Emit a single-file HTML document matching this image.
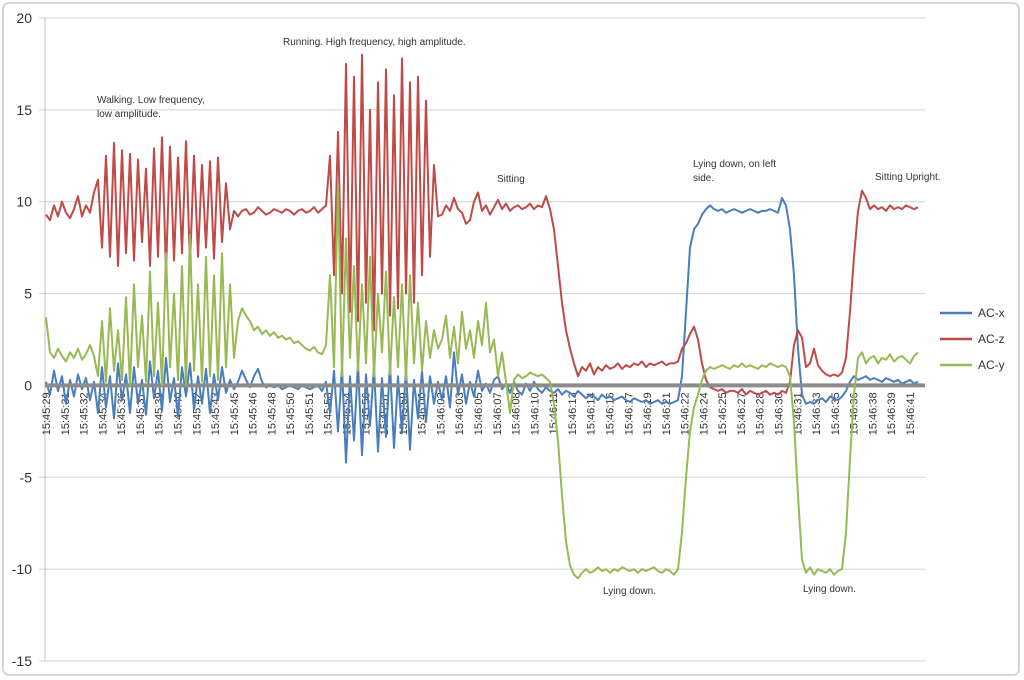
<!DOCTYPE html>
<html><head><meta charset="utf-8"><style>
html,body{margin:0;padding:0;background:#fff;}
svg{display:block;font-family:"Liberation Sans",sans-serif;}
</style></head><body>
<svg id="chart" width="1024" height="680" viewBox="0 0 1024 680" xmlns="http://www.w3.org/2000/svg">
<rect x="3" y="3" width="1016" height="672" rx="6" fill="#fff" stroke="#c8c8c8" stroke-width="1.5"/>
<g id="grid"></g>
<g id="yaxis"></g>
<g id="xaxis"></g>
<g id="series"></g>
<g font-size="10" fill="#333">
<text x="97" y="103">Walking. Low frequency,</text>
<text x="97" y="117">low amplitude.</text>
<text x="283" y="45">Running. High frequency, high amplitude.</text>
<text x="497" y="182">Sitting</text>
<text x="693" y="167">Lying down, on left</text>
<text x="693" y="181">side.</text>
<text x="875" y="180">Sitting Upright.</text>
<text x="603" y="594">Lying down.</text>
<text x="803" y="592">Lying down.</text>
</g>
<g font-size="12" fill="#333">
<line x1="940" y1="313" x2="972" y2="313" stroke="#4a7ebb" stroke-width="2.5"/>
<text x="978" y="317">AC-x</text>
<line x1="940" y1="339" x2="972" y2="339" stroke="#be4b48" stroke-width="2.5"/>
<text x="978" y="343">AC-z</text>
<line x1="940" y1="365" x2="972" y2="365" stroke="#98b954" stroke-width="2.5"/>
<text x="978" y="369">AC-y</text>
</g>
</svg>
<script>
const yTicks=[20,15,10,5,0,-5,-10,-15];
const timeLabels=["15:45:29","15:45:31","15:45:32","15:45:34","15:45:36","15:45:37","15:45:39","15:45:40","15:45:42","15:45:43","15:45:45","15:45:46","15:45:48","15:45:50","15:45:51","15:45:53","15:45:54","15:45:56","15:45:57","15:45:59","15:46:00","15:46:02","15:46:03","15:46:05","15:46:07","15:46:08","15:46:10","15:46:11","15:46:13","15:46:14","15:46:16","15:46:17","15:46:19","15:46:21","15:46:22","15:46:24","15:46:25","15:46:27","15:46:28","15:46:30","15:46:31","15:46:33","15:46:35","15:46:36","15:46:38","15:46:39","15:46:41"];
const acZ=[9.3,9.0,9.8,9.2,10.0,9.4,9.1,9.6,10.3,9.2,9.8,9.4,10.5,
11.2,7.5,12.5,7,13.2,6.5,12.8,7.2,12.6,6.8,12.3,7.8,11.8,6.5,12.9,7.0,13.5,6.2,13.0,6.8,12.4,7.2,13.3,6.6,12.5,7.0,12.0,7.5,12.2,6.9,12.4,7.8,11.0,8.5,9.5,
9.2,9.5,9.6,9.3,9.4,9.7,9.5,9.3,9.4,9.6,9.5,9.4,9.6,9.5,9.3,9.5,9.6,9.4,9.5,9.7,9.4,9.6,9.8,
12.5,6,13.8,5,17.5,4,16.8,3.5,18.0,4.5,15,3,16.5,5,17.2,3.8,15.8,4.2,17.8,5,16.5,4.5,16.8,6,15.5,7,12,9.2,
9.3,9.8,9.5,10.2,9.6,9.4,8.8,9.0,10.0,10.5,9.5,9.8,9.3,9.7,10.1,9.6,9.9,9.5,9.7,9.8,9.6,9.7,9.9,9.6,9.8,9.7,10.3,9.6,
8.5,6.5,4.5,3,2,1.2,0.5,1.0,
0.8,1.2,0.6,1.0,0.8,1.1,0.9,1.0,1.2,0.9,1.1,1.0,1.2,1.1,1.3,1.0,1.2,1.1,1.2,1.3,1.1,1.2,1.2,1.3,
2.0,2.3,2.8,3.2,2.5,1.2,0.3,-0.1,-0.2,
-0.3,-0.2,-0.4,-0.3,-0.3,-0.4,-0.2,-0.5,-0.3,-0.4,-0.5,-0.4,-0.3,-0.5,-0.4,-0.5,-0.3,-0.4,0.2,
2.2,3.0,2.6,1.0,1.2,2.0,1.1,0.8,0.6,0.5,0.6,0.5,0.7,
1.5,4,7,9.5,10.6,10.2,9.6,
9.8,9.6,9.7,9.5,9.8,9.6,9.7,9.6,9.8,9.7,9.6,9.7];
const acX=[0.2,-0.5,0.8,-0.3,0.5,-1.0,0.3,-0.6,0.6,-0.2,0.4,-0.8,0.2,
-1.5,1.0,-1.2,0.5,-1.8,1.2,-0.8,0.6,-1.5,1.0,-1.0,0.3,-1.6,1.3,-0.7,0.8,-1.4,1.5,-0.9,0.4,-1.7,1.0,-0.6,1.2,-1.3,0.5,-1.0,0.9,-1.5,0.6,-0.8,1.0,-0.4,0.3,-0.2,
0.2,0.8,0.3,-0.1,0.5,0.9,0.2,-0.1,0,-0.1,0,-0.2,-0.1,0,-0.1,-0.2,0,-0.1,-0.2,-0.1,0,-0.3,0.2,
-1.5,0.8,-2.5,1.0,-4.2,0.5,-3.0,1.2,-3.8,0.6,-2.2,1.0,-3.6,0.4,-2.8,1.1,-3.4,0.5,-2.6,0.9,-3.5,0.3,-1.8,0.8,-2.0,0.5,-1.0,0.2,
-0.8,0.5,-1.2,1.8,-0.5,0.6,-1.0,0.2,-0.6,0.8,-0.3,0.1,-0.4,0.3,0.5,-0.2,0.1,-0.4,0.2,-0.3,-0.5,0.1,-0.3,0.2,-0.2,-0.4,-0.1,-0.3,
-0.4,-0.2,-0.5,-0.3,-0.4,-0.6,-0.3,-0.5,
-0.7,-0.5,-0.6,-0.8,-0.5,-0.7,-0.6,-0.8,-0.7,-0.6,-0.8,-0.9,-0.7,-0.8,-0.9,-0.8,-1.0,-0.9,-0.8,-1.0,-0.9,-1.0,-0.9,-0.8,
0.5,4,7.5,8.5,8.8,9.3,9.6,9.8,9.6,
9.5,9.6,9.4,9.5,9.6,9.5,9.4,9.5,9.6,9.5,9.4,9.5,9.5,9.6,9.5,9.4,10.2,9.8,8.5,
6,2,-0.5,-1.0,-0.9,-1.0,-0.8,-0.7,-0.9,-0.6,-0.7,-0.8,-0.6,
-0.3,0.2,0.5,0.3,0.4,0.5,0.3,
0.4,0.3,0.2,0.4,0.3,0.2,0.3,0.1,0.2,0.3,0.1,0.2];
const acY=[3.7,1.8,1.5,2.0,1.6,1.3,1.8,1.5,2.0,1.4,1.7,2.2,1.6,
0.5,3.5,0.2,4.2,0.8,3.0,0.3,4.8,0,5.5,1.0,3.8,0.2,6.2,0.5,4.5,0,7.2,1.0,5.0,0.3,6.5,0,8.2,0.8,5.5,0.2,7.0,0.5,6.0,0.3,7.2,1.0,5.5,1.5,
3.5,4.2,3.8,3.5,3.0,3.2,2.8,3.0,2.7,2.9,2.6,2.7,2.5,2.6,2.3,2.4,2.2,2.0,1.9,2.1,1.8,1.7,2.2,
6.0,1.0,11.0,0.5,8.0,1.5,6.5,0.8,5.5,1.2,7.0,0.5,5.0,1.8,6.2,0.6,4.8,1.0,5.5,0.3,6.0,1.2,4.5,0.8,3.5,1.5,3.0,2.0,
2.5,3.8,1.5,3.2,1.2,4.0,2.0,3.0,1.5,3.5,2.2,4.5,1.8,2.5,0.5,1.8,0.2,-1.5,0.3,0.6,0.4,0.5,0.7,0.6,0.5,0.6,0.4,0.2,
-1,-3,-6,-8.5,-9.8,-10.3,-10.5,-10.2,
-10.0,-10.2,-10.1,-9.9,-10.1,-10.0,-10.2,-10.0,-10.1,-9.9,-10.0,-10.1,-10.0,-10.2,-10.0,-10.1,-10.0,-9.9,-10.1,-10.2,-10.0,-10.1,-10.3,-10.0,
-8,-5,-2.5,-1.2,-0.5,0.3,0.8,1.0,0.9,
1.0,1.1,1.0,0.9,1.1,1.0,1.2,1.0,1.1,1.0,0.9,1.1,1.0,1.2,1.1,1.0,1.1,1.0,0.5,
-2,-6,-9.5,-10.2,-9.9,-10.3,-10.0,-10.1,-10.2,-10.0,-10.3,-10.1,-10.0,
-8,-4,-0.5,1.5,1.8,1.2,1.5,
1.6,1.2,1.5,1.4,1.7,1.3,1.5,1.6,1.4,1.2,1.6,1.8];

const NS="http://www.w3.org/2000/svg";
const PL=45,PR=925,PT=18,PB=661,YMIN=-15,YMAX=20;
const XD0=46,XD1=918;
function yS(v){return PB-(v-YMIN)/(YMAX-YMIN)*(PB-PT);}
function xS(i,n){return XD0+i*(XD1-XD0)/(n-1);}
function el(t,a,p){const e=document.createElementNS(NS,t);for(const k in a)e.setAttribute(k,a[k]);p.appendChild(e);return e;}
const grid=document.getElementById('grid'),ya=document.getElementById('yaxis'),xa=document.getElementById('xaxis'),sg=document.getElementById('series');
yTicks.forEach(v=>{
  const y=yS(v);
  if(v!==0){const l=el('line',{x1:PL-6,x2:PR,y1:y,y2:y,stroke:'#d0d0d0','stroke-width':1},grid);
  
  }
  const t=el('text',{x:32,y:y+5,'text-anchor':'end','font-size':14,fill:'#333'},ya);
  t.textContent=v;
  
  
});
const ax=el('line',{x1:PL,x2:PL,y1:PT,y2:PB,stroke:'#c0c0c0','stroke-width':1},ya);


const LX0=46,LX1=910;
timeLabels.forEach((s,i)=>{
  const x=LX0+i*(LX1-LX0)/(timeLabels.length-1);
  const t=el('text',{x:0,y:0,'text-anchor':'end','font-size':11,fill:'#333',transform:`translate(${x+4},${yS(0)+7}) rotate(-90)`},xa);
  t.textContent=s;
  
  
});
function drawSeries(arr,color,name){
  const pts=arr.map((v,i)=>xS(i,arr.length).toFixed(1)+','+yS(v).toFixed(1)).join(' ');
  const p=el('polyline',{points:pts,fill:'none',stroke:color,'stroke-width':2,'stroke-linejoin':'round'},sg);
  
  
}
drawSeries(acX,'#4a7ebb','series-ac-x');
drawSeries(acZ,'#be4b48','series-ac-z');
const zl=el('line',{x1:PL,x2:PR,y1:yS(0),y2:yS(0),stroke:'#8c8c8c','stroke-width':4},sg);


drawSeries(acY,'#98b954','series-ac-y');
</script>
</body></html>
